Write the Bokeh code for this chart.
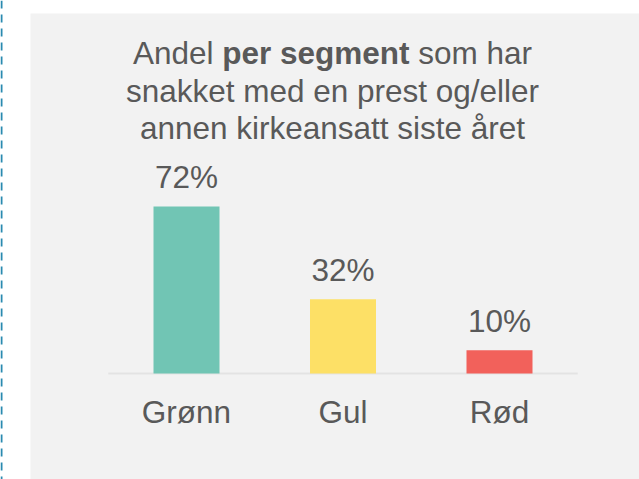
from bokeh.plotting import figure
from bokeh.models import Range1d, BoxAnnotation, Span, Label, ColumnDataSource
from bokeh.core.properties import value
from bokeh.embed import file_html
from bokeh.resources import INLINE

# ---- data ----
categories = ["Grønn", "Gul", "Rød"]
shares = [72, 32, 10]
bar_colors = ["#71C5B4", "#FDE066", "#F2615B"]
title_lines = [["Andel ", "per segment", " som har"],
               ["snakket med en prest og/eller"],
               ["annen kirkeansatt siste året"]]

# ---- layout constants ----
W, H = 639, 479
PX_PER_CAT = 156.5          # pixels between category centres
FIRST_CENTER = 186          # px from left of figure
PX_PER_PCT = 2.32           # pixels per percentage point
BASE_FROM_TOP = 373         # px from top of figure where 0 % sits
FONT = "Liberation Sans"
FS = 31.5
TXT = "#595959"
SHIFT = 11                  # baseline compensation for svg text

x_start = -FIRST_CENTER / PX_PER_CAT
x_end = x_start + W / PX_PER_CAT
y_end = BASE_FROM_TOP / PX_PER_PCT
y_start = y_end - H / PX_PER_PCT

def dx(px):
    return x_start + px / PX_PER_CAT

def dy(py_top):
    return y_end - py_top / PX_PER_PCT

p = figure(width=W, height=H, output_backend="svg", toolbar_location=None,
           x_range=Range1d(x_start, x_end), y_range=Range1d(y_start, y_end),
           x_axis_location=None, y_axis_location=None, min_border=0,
           outline_line_color=None, background_fill_color="white",
           border_fill_color="white")
p.grid.visible = False

# grey panel
p.add_layout(BoxAnnotation(left=dx(30), top=dy(13), fill_color="#F2F2F2", fill_alpha=1,
                           line_color=None, level="underlay"))
# dashed frame line at left
p.add_layout(Span(location=dx(1), dimension="height", line_color="#2A8AB0",
                  line_width=2, line_dash="8 6"))

idx = list(range(len(categories)))
src = ColumnDataSource(dict(x=idx, top=shares, color=bar_colors, cat=categories,
                            lab=[f"{v}%" for v in shares], zero=[0] * len(shares)))

# baseline
p.segment(x0=[-0.5], y0=[0], x1=[len(categories) - 0.5], y1=[0],
          line_color="#E3E3E3", line_width=2)

p.vbar(x="x", top="top", bottom=0, width=66 / PX_PER_CAT, fill_color="color",
       line_color=None, source=src)

p.text(x="x", y="top", text="lab", y_offset=-18 - SHIFT, text_align="center",
       text_baseline="alphabetic", text_font=value(FONT),
       text_font_size=f"{FS}px", text_color=TXT, source=src)
p.text(x="x", y="zero", text="cat", y_offset=49 - SHIFT, text_align="center",
       text_baseline="alphabetic", text_font=value(FONT),
       text_font_size=f"{FS}px", text_color=TXT, source=src)

# title (line 1 has a bold middle part)
center = 332
w1 = 12.671 * FS
x0 = center - w1 / 2
pieces = [(title_lines[0][0].strip(), x0, "normal"),
          (title_lines[0][1], x0 + 2.835 * FS, "bold"),
          (title_lines[0][2].strip(), x0 + 9.059 * FS, "normal")]
for txt, px, style in pieces:
    p.add_layout(Label(x=dx(px), y=dy(63 - SHIFT), text=txt, text_align="left",
                       text_baseline="alphabetic", text_font=FONT,
                       text_font_size=f"{FS}px", text_font_style=style,
                       text_color=TXT))
for line, py in zip(title_lines[1:], [101, 138]):
    p.add_layout(Label(x=dx(center), y=dy(py - SHIFT), text=line[0], text_align="center",
                       text_baseline="alphabetic", text_font=FONT,
                       text_font_size=f"{FS}px", text_color=TXT))

open("out.html", "w").write(file_html(p, INLINE))
